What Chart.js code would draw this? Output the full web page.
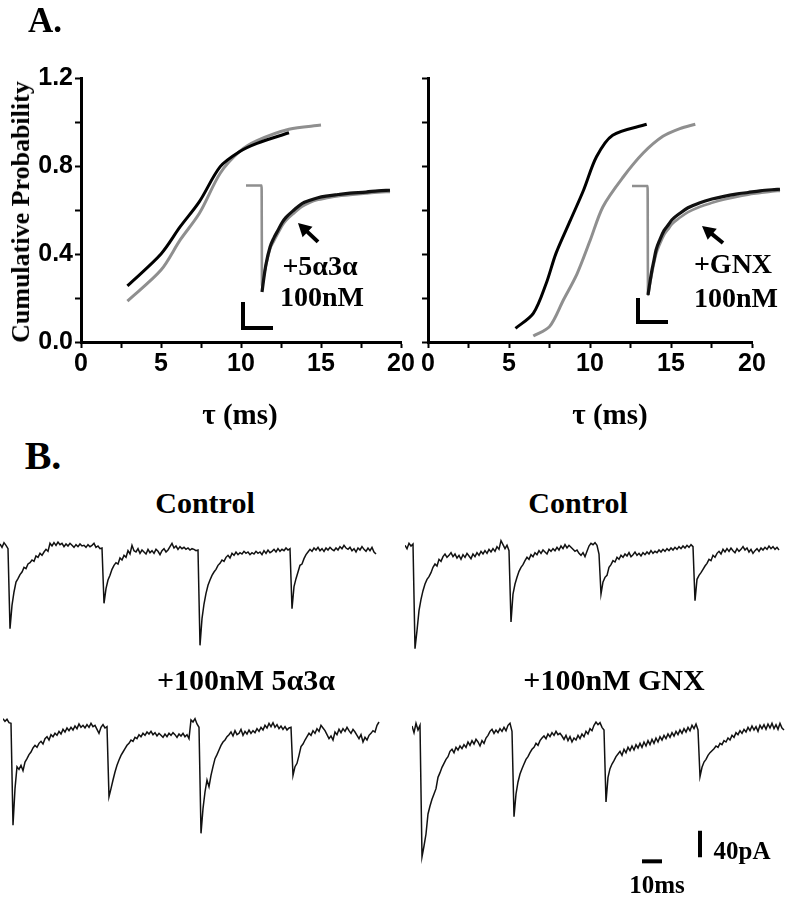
<!DOCTYPE html>
<html>
<head>
<meta charset="utf-8">
<script src="https://cdn.jsdelivr.net/npm/chart.js@4.4.1/dist/chart.umd.min.js"></script>
<style>
  html, body { margin: 0; padding: 0; background: #fff; }
  #fig { position: relative; width: 785px; height: 899px; overflow: hidden; background: #fff; }
  canvas { position: absolute; }
  .lbl { position: absolute; transform: translate(-50%, -50%); white-space: nowrap; line-height: 1;
         font-family: "Liberation Serif", "Times New Roman", serif; font-weight: bold; color: #000; }
</style>
</head>
<body>
<div id="fig">
  <canvas id="cumLeft" width="420" height="430" style="left:0;top:0"></canvas>
  <canvas id="cumRight" width="385" height="430" style="left:400px;top:0"></canvas>
  <canvas id="insetLeft" width="160" height="160" style="left:238px;top:178px"></canvas>
  <canvas id="insetRight" width="157" height="160" style="left:628px;top:178px"></canvas>
  <canvas id="trCtrlL" width="380" height="160" style="left:0;top:532px"></canvas>
  <canvas id="trCtrlR" width="380" height="160" style="left:405px;top:534px"></canvas>
  <canvas id="trSteroid" width="380" height="160" style="left:3px;top:712px"></canvas>
  <canvas id="trGnx" width="380" height="160" style="left:412px;top:714px"></canvas>

  <div class="lbl" style="left:45px;top:20px;font-size:35px">A.</div>
  <div class="lbl" style="left:21px;top:212px;font-size:26px;transform:translate(-50%,-50%) rotate(-90deg)">Cumulative Probability</div>
  <div class="lbl" style="left:240px;top:414px;font-size:29px">τ (ms)</div>
  <div class="lbl" style="left:610px;top:414px;font-size:29px">τ (ms)</div>
  <div class="lbl" style="left:320px;top:266px;font-size:28px">+5α3α</div>
  <div class="lbl" style="left:322px;top:297px;font-size:28px">100nM</div>
  <div class="lbl" style="left:733px;top:264px;font-size:28px">+GNX</div>
  <div class="lbl" style="left:736px;top:298px;font-size:28px">100nM</div>

  <div class="lbl" style="left:43px;top:456px;font-size:40px">B.</div>
  <div class="lbl" style="left:205px;top:503px;font-size:30px">Control</div>
  <div class="lbl" style="left:578px;top:503px;font-size:30px">Control</div>
  <div class="lbl" style="left:246px;top:680px;font-size:30px">+100nM 5α3α</div>
  <div class="lbl" style="left:614px;top:680px;font-size:30px">+100nM GNX</div>
  <div class="lbl" style="left:742px;top:850px;font-size:25px">40pA</div>
  <div class="lbl" style="left:657px;top:884px;font-size:25px">10ms</div>
</div>

<script>
// ---- panel A: cumulative probability of decay tau (ms)
const tauCtrl1 = [2.9, 5.0, 6.2, 7.4, 8.7, 9.9, 11.0, 13.0];
const probCtrl1 = [0.255, 0.40, 0.524, 0.638, 0.797, 0.865, 0.903, 0.951];
const tau5a3a = [2.9, 5.0, 6.2, 7.4, 8.7, 9.9, 11.0, 13.0, 15.0];
const prob5a3a = [0.186, 0.327, 0.464, 0.585, 0.767, 0.865, 0.915, 0.967, 0.986];
const tauCtrl2 = [5.4, 6.5, 7.3, 7.9, 8.8, 9.6, 10.4, 11.4, 13.5];
const probCtrl2 = [0.062, 0.13, 0.267, 0.403, 0.555, 0.69, 0.842, 0.94, 0.99];
const tauGnx = [6.5, 7.5, 8.35, 9.2, 10.0, 10.8, 12.05, 13.3, 14.5, 15.55, 16.5];
const probGnx = [0.027, 0.07, 0.19, 0.31, 0.46, 0.615, 0.75, 0.86, 0.935, 0.97, 0.99];

// ---- insets: averaged normalized sIPSCs (time ms, amplitude normalized to peak)
const insetBaseT = [0, 3.9];
const insetBaseV = [0, 0];
const insetT1 = [4, 4.5, 5, 6, 7, 8, 9, 10, 12, 14, 16, 18, 20, 23, 26, 30, 33, 36];
const insetCtrl1 = [-1.0, -0.86, -0.74, -0.58, -0.49, -0.42, -0.35, -0.30, -0.23, -0.17, -0.14, -0.115, -0.10, -0.085, -0.072, -0.062, -0.05, -0.045];
const inset5a3a = [-0.95, -0.84, -0.75, -0.60, -0.52, -0.45, -0.38, -0.33, -0.26, -0.20, -0.16, -0.135, -0.12, -0.10, -0.09, -0.075, -0.065, -0.06];
const insetT2 = [4, 4.5, 5, 5.5, 6, 7, 8, 9, 10, 12, 14, 17, 20, 23, 26, 29, 32, 35, 37];
const insetCtrl2 = [-1.0, -0.88, -0.77, -0.68, -0.59, -0.49, -0.41, -0.36, -0.31, -0.25, -0.20, -0.153, -0.12, -0.095, -0.075, -0.06, -0.045, -0.035, -0.03];
const insetGnx = [-1.0, -0.9, -0.80, -0.71, -0.63, -0.53, -0.45, -0.40, -0.35, -0.29, -0.24, -0.19, -0.155, -0.125, -0.10, -0.08, -0.065, -0.05, -0.045];

// ---- panel B: raw traces, pA, one sample per ms
const traceCtrl1 = [2,-3,4,0,-5,
  -125,-90,-70,-55,-50,-44,-40,-33,-35,-28,-26,-22,-24,-16,-18,-12,-15,-10,-6,-9,
  3,-1,4,0,5,1,3,-2,2,-1,3,0,-3,1,-2,2,-1,0,-3,1,-2,0,3,-3,-1,-5,-4,
  -87,-65,-52,-45,-36,-30,-26,-28,-19,-22,-15,-18,-8,-13,0,-8,-10,-5,-12,-7,-10,-13,-6,-11,-8,-12,-6,-9,-14,-8,-5,-10,-7,-2,3,-4,-1,-6,-2,-5,-3,-6,-4,-7,-5,-6,-8,-7,
  -150,-110,-88,-72,-60,-52,-45,-40,-36,-30,-27,-22,-24,-18,-15,-19,-12,-15,-10,-14,-11,-13,-9,-12,-10,-14,-11,-13,-9,-12,-10,-14,-8,-12,-7,-11,-9,-6,-10,-5,-9,-6,-8,-4,-7,-5,
  -95,-62,-50,-40,-30,-28,-20,-14,-10,-6,-9,-4,-7,-3,-8,-5,-9,-4,-7,-3,-6,-8,-4,-7,-2,-5,0,-4,-6,-3,-8,-5,-10,-4,-7,-2,-6,-9,-4,-8,-3,-10,-13];
const traceCtrl2 = [3,-2,6,2,5,
  -152,-125,-95,-78,-65,-55,-48,-44,-38,-30,-25,-28,-18,-21,-14,-10,-15,-12,-8,-14,-10,-16,-12,-18,-11,-15,-9,-13,-17,-10,-14,-8,-12,-6,-10,-5,-9,-3,-7,-2,-6,1,-3,10,4,-2,3,-5,
  -112,-70,-55,-45,-36,-30,-26,-20,-15,-18,-11,-14,-8,-11,-5,-9,-4,-7,-10,-3,-6,-2,-5,0,-4,2,-2,4,-1,3,0,-3,-6,-4,-9,-12,-8,-14,-6,2,6,4,7,3,-10,
  -70,-52,-45,-42,-30,-26,-20,-22,-15,-18,-12,-15,-10,-13,-8,-14,-11,-7,-12,-9,-13,-8,-11,-7,-10,-5,-9,-6,-8,-4,-7,-3,-6,-2,-5,-1,-4,0,-3,1,-2,2,-1,3,0,4,1,
  -80,-48,-42,-38,-33,-28,-24,-18,-20,-12,-15,-9,-6,-10,-3,-7,-2,-6,-1,-5,-8,-2,-6,-3,1,-4,-1,-7,-3,-9,-5,-2,-6,-1,-4,0,-3,2,-2,1,-3,0,-4];
const trace5a3a = [10,6,9,4,3,
  -150,-95,-62,-66,-60,-68,-55,-50,-44,-40,-34,-30,-33,-27,-24,-28,-20,-17,-22,-14,-17,-12,-15,-9,-13,-6,-10,-4,-8,-3,-7,-1,-5,2,-3,0,-4,1,-3,3,-2,0,-6,-12,-3,1,-4,-2,
  -107,-95,-82,-70,-60,-52,-45,-40,-35,-30,-27,-22,-24,-18,-20,-14,-17,-12,-15,-10,-13,-9,-14,-11,-16,-12,-15,-18,-13,-17,-12,-15,-11,-14,-18,-13,-16,-12,-17,-14,-20,8,5,10,2,-3,
  -162,-125,-100,-82,-92,-75,-62,-50,-44,-37,-30,-25,-22,-17,-14,-10,-16,-8,-14,-12,-6,-15,-9,-13,-7,-12,-8,-11,-5,-9,-3,-7,0,-4,3,-2,4,-3,1,-5,-1,-6,-2,-7,-4,
  -3,-75,-62,-57,-45,-32,-28,-22,-17,-12,-15,-8,-12,-5,-9,0,-4,-8,-14,-20,-16,-22,-10,-14,-6,-11,-5,-9,-3,-8,-12,-6,-10,-15,-20,-14,-25,-18,-22,-15,-12,-8,-10,0,5];
const traceGnx = [2,-8,6,-4,3,
  -194,-178,-160,-130,-118,-108,-100,-92,-75,-68,-60,-54,-48,-44,-36,-33,-38,-30,-34,-28,-32,-26,-30,-22,-27,-20,-25,-18,-22,-28,-20,-24,-16,-12,-6,-3,-9,-4,-8,-2,-6,0,-5,3,6,-6,
  -134,-100,-82,-70,-62,-55,-48,-44,-38,-33,-30,-24,-27,-20,-16,-13,-17,-10,-14,-8,-12,-6,-11,-9,-13,-18,-12,-20,-14,-22,-16,-19,-12,-17,-10,-14,-6,-10,-2,-5,3,8,4,7,0,
  -4,-112,-75,-62,-55,-50,-44,-40,-36,-42,-33,-38,-30,-35,-28,-34,-26,-31,-24,-30,-22,-28,-20,-26,-18,-24,-16,-22,-14,-19,-12,-17,-10,-15,-8,-13,-6,-11,-4,-9,-2,-7,0,-5,3,-2,5,-4,
  -74,-60,-52,-48,-42,-38,-35,-32,-28,-30,-24,-26,-20,-22,-16,-19,-12,-15,-8,-11,-5,-9,-3,-7,0,-5,2,-4,1,-6,3,-2,4,-3,5,-1,6,-2,4,-3,6,-1,-4];

// scale bars
const insetBarMs = 7.5;
const barPA = 40;
const barMs = 10;

const BLACK = '#000';
const GRAY = '#8f8f8f';
const tickFont = { family: 'Liberation Sans, Arial, sans-serif', size: 25, weight: 'bold' };

function pts(xs, ys) {
  return xs.map((x, i) => ({ x, y: ys[i] }));
}

function cumChart(id, tb, pb, tg, pg, yWidth, plotRight, showY) {
  const el = document.getElementById(id);
  const h = el.height;
  new Chart(el, {
    type: 'line',
    data: {
      datasets: [
        { data: pts(tb, pb), borderColor: BLACK, borderWidth: 3, pointRadius: 0, tension: 0.3 },
        { data: pts(tg, pg), borderColor: GRAY, borderWidth: 3, pointRadius: 0, tension: 0.3 }
      ]
    },
    options: {
      responsive: false,
      animation: false,
      layout: { padding: { top: 78, right: el.width - plotRight, left: 0, bottom: 0 } },
      plugins: { legend: { display: false }, tooltip: { enabled: false } },
      scales: {
        x: {
          type: 'linear', min: 0, max: 20,
          ticks: { stepSize: 2.5, autoSkip: false, maxRotation: 0, color: BLACK, font: tickFont, padding: 1,
                   callback: v => (v % 5 === 0 ? v : '') },
          grid: { drawOnChartArea: false, tickLength: 6, tickWidth: 2, tickColor: BLACK },
          border: { color: BLACK, width: 3 },
          afterFit: s => { s.height = h - 342; s.paddingLeft = 0; s.paddingRight = 0; }
        },
        y: {
          min: 0, max: 1.2,
          ticks: { stepSize: 0.2, autoSkip: false, color: BLACK, font: tickFont, padding: 2,
                   callback: v => (showY && Math.round(v * 10) % 4 === 0 ? v.toFixed(1) : '') },
          grid: { drawOnChartArea: false, tickLength: 6, tickWidth: 2, tickColor: BLACK },
          border: { color: BLACK, width: 3 },
          afterFit: s => { s.width = yWidth; s.paddingTop = 0; s.paddingBottom = 0; }
        }
      }
    }
  });
}

cumChart('cumLeft', tauCtrl1, probCtrl1, tau5a3a, prob5a3a, 81, 401, true);
cumChart('cumRight', tauCtrl2, probCtrl2, tauGnx, probGnx, 28, 352, false);

const arrowPlugin = {
  id: 'arrow',
  afterDatasetsDraw(chart, args, opts) {
    if (!opts.from) return;
    const sx = chart.scales.x, sy = chart.scales.y;
    const x0 = sx.getPixelForValue(opts.from[0]), y0 = sy.getPixelForValue(opts.from[1]);
    const x1 = sx.getPixelForValue(opts.to[0]), y1 = sy.getPixelForValue(opts.to[1]);
    const a = Math.atan2(y1 - y0, x1 - x0);
    const ctx = chart.ctx;
    ctx.save();
    ctx.strokeStyle = BLACK;
    ctx.fillStyle = BLACK;
    ctx.lineWidth = 4;
    ctx.beginPath();
    ctx.moveTo(x0, y0);
    ctx.lineTo(x1 - 9 * Math.cos(a), y1 - 9 * Math.sin(a));
    ctx.stroke();
    ctx.beginPath();
    ctx.moveTo(x1, y1);
    ctx.lineTo(x1 - 15 * Math.cos(a - 0.5), y1 - 15 * Math.sin(a - 0.5));
    ctx.lineTo(x1 - 15 * Math.cos(a + 0.5), y1 - 15 * Math.sin(a + 0.5));
    ctx.closePath();
    ctx.fill();
    ctx.restore();
  }
};

function insetChart(id, tt, ctrl, drug, xr, yr, bar, arrow) {
  const base = pts(insetBaseT, insetBaseV);
  new Chart(document.getElementById(id), {
    type: 'line',
    data: {
      datasets: [
        { data: pts(tt, ctrl), borderColor: '#111', borderWidth: 3.2, pointRadius: 0, tension: 0.4, cubicInterpolationMode: 'monotone', clip: false },
        { data: base.concat(pts(tt, drug)), borderColor: GRAY, borderWidth: 2.6, pointRadius: 0, tension: 0.4, cubicInterpolationMode: 'monotone', clip: false },
        { data: bar, borderColor: BLACK, borderWidth: 4, pointRadius: 0, tension: 0, clip: false, borderCapStyle: 'butt', borderJoinStyle: 'miter' }
      ]
    },
    options: {
      responsive: false,
      animation: false,
      layout: { padding: 0 },
      plugins: { legend: { display: false }, tooltip: { enabled: false }, arrow },
      scales: {
        x: { type: 'linear', min: xr[0], max: xr[1], display: false },
        y: { min: yr[0], max: yr[1], display: false }
      }
    },
    plugins: [arrowPlugin]
  });
}

insetChart('insetLeft', insetT1, insetCtrl1, inset5a3a, [-2, 38], [-1.432, 0.07],
  [{ x: -0.75, y: -1.094 }, { x: -0.75, y: -1.338 }, { x: -0.75 + insetBarMs, y: -1.338 }],
  { from: [18, -0.53], to: [13, -0.352] });
insetChart('insetRight', insetT2, insetCtrl2, insetGnx, [-1, 38.25], [-1.395, 0.073],
  [{ x: 1.5, y: -1.028 }, { x: 1.5, y: -1.248 }, { x: 1.5 + insetBarMs, y: -1.248 }],
  { from: [22.75, -0.523], to: [17.5, -0.367] });

function traceChart(id, values, extra) {
  const datasets = [{
    data: values.map((v, i) => ({ x: i, y: v })),
    borderColor: '#111', borderWidth: 1.5, pointRadius: 0, tension: 0, clip: false
  }].concat(extra || []);
  new Chart(document.getElementById(id), {
    type: 'line',
    data: { datasets },
    options: {
      responsive: false,
      animation: false,
      layout: { padding: 0 },
      plugins: { legend: { display: false }, tooltip: { enabled: false } },
      scales: {
        x: { type: 'linear', min: 0, max: 190, display: false },
        y: { min: -220, max: 20, display: false }
      }
    }
  });
}

traceChart('trCtrlL', traceCtrl1);
traceChart('trCtrlR', traceCtrl2);
traceChart('trSteroid', trace5a3a);
traceChart('trGnx', traceGnx, [
  { data: [{ x: 144, y: -155 }, { x: 144, y: -155 - barPA }], borderColor: BLACK, borderWidth: 4, pointRadius: 0, clip: false, borderCapStyle: 'butt' },
  { data: [{ x: 115, y: -201 }, { x: 115 + barMs, y: -201 }], borderColor: BLACK, borderWidth: 4, pointRadius: 0, clip: false, borderCapStyle: 'butt' }
]);
</script>
</body>
</html>
